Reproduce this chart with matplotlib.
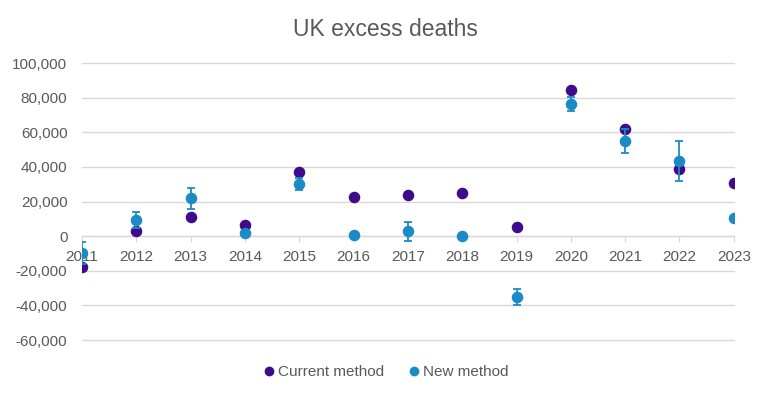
import matplotlib
matplotlib.use("Agg")
from matplotlib import pyplot as plt
from matplotlib.ticker import FuncFormatter
from matplotlib.lines import Line2D

plt.rcParams['font.family'] = ['Liberation Sans', 'DejaVu Sans']

years = [2011, 2012, 2013, 2014, 2015, 2016, 2017, 2018, 2019, 2020, 2021, 2022, 2023]
current = [-17800, 3200, 11300, 6200, 36800, 22700, 23700, 24800, 5400, 84300, 61800, 38800, 30800]
new = [-9600, 9500, 21900, 1700, 30200, 900, 2700, 300, -35000, 76400, 55000, 43300, 10400]
new_err = [6500, 4600, 6000, 1000, 3300, 800, 5400, 1000, 4600, 4000, 7000, 11500, 1000]

PURPLE = '#3F0A8C'
BLUE = '#1A8BC6'
GREY = '#595959'
GRID = '#D9D9D9'

fig = plt.figure(figsize=(7.7, 3.98), dpi=100)
ax = fig.add_axes([0.1065, 0.1457, 0.8465, 0.696])

ax.plot(years, current, 'o', color=PURPLE, markersize=7.3, zorder=3)
ax.errorbar(years, new, yerr=new_err, fmt='o', color=BLUE, markersize=7.3,
            ecolor=BLUE, elinewidth=1.3, capsize=3, capthick=1.3, zorder=4)

ax.set_xlim(2011, 2023)
ax.set_ylim(-60000, 100000)
ax.set_yticks(range(-60000, 100001, 20000))
ax.yaxis.set_major_formatter(FuncFormatter(lambda v, p: f'{int(v):,}'))
ax.set_xticks(years)

ax.grid(axis='y', color=GRID, linewidth=1)
for gl in ax.get_ygridlines():
    gl.set_clip_on(False)
ax.set_axisbelow(True)
for s in ['top', 'right', 'left']:
    ax.spines[s].set_visible(False)
ax.spines['bottom'].set_position(('data', 0))
ax.spines['bottom'].set_color(GRID)
ax.spines['bottom'].set_linewidth(1)

ax.tick_params(axis='y', length=0, labelsize=11, labelcolor=GREY, pad=10.5)
ax.tick_params(axis='x', length=4, color=GRID, labelsize=11, labelcolor=GREY, pad=6)

fig.suptitle('UK excess deaths', y=0.955, fontsize=16.5, color=GREY)

handles = [Line2D([], [], marker='o', linestyle='none', color=PURPLE, markersize=6),
           Line2D([], [], marker='o', linestyle='none', color=BLUE, markersize=6)]
leg = fig.legend(handles, ['Current method', 'New method'], loc='center',
                 bbox_to_anchor=(0.5, 0.065), ncol=2, frameon=False,
                 fontsize=11, handletextpad=0.05, handlelength=1.0, columnspacing=1.5)
for t in leg.get_texts():
    t.set_color(GREY)

fig.savefig('out.png', dpi=100)
